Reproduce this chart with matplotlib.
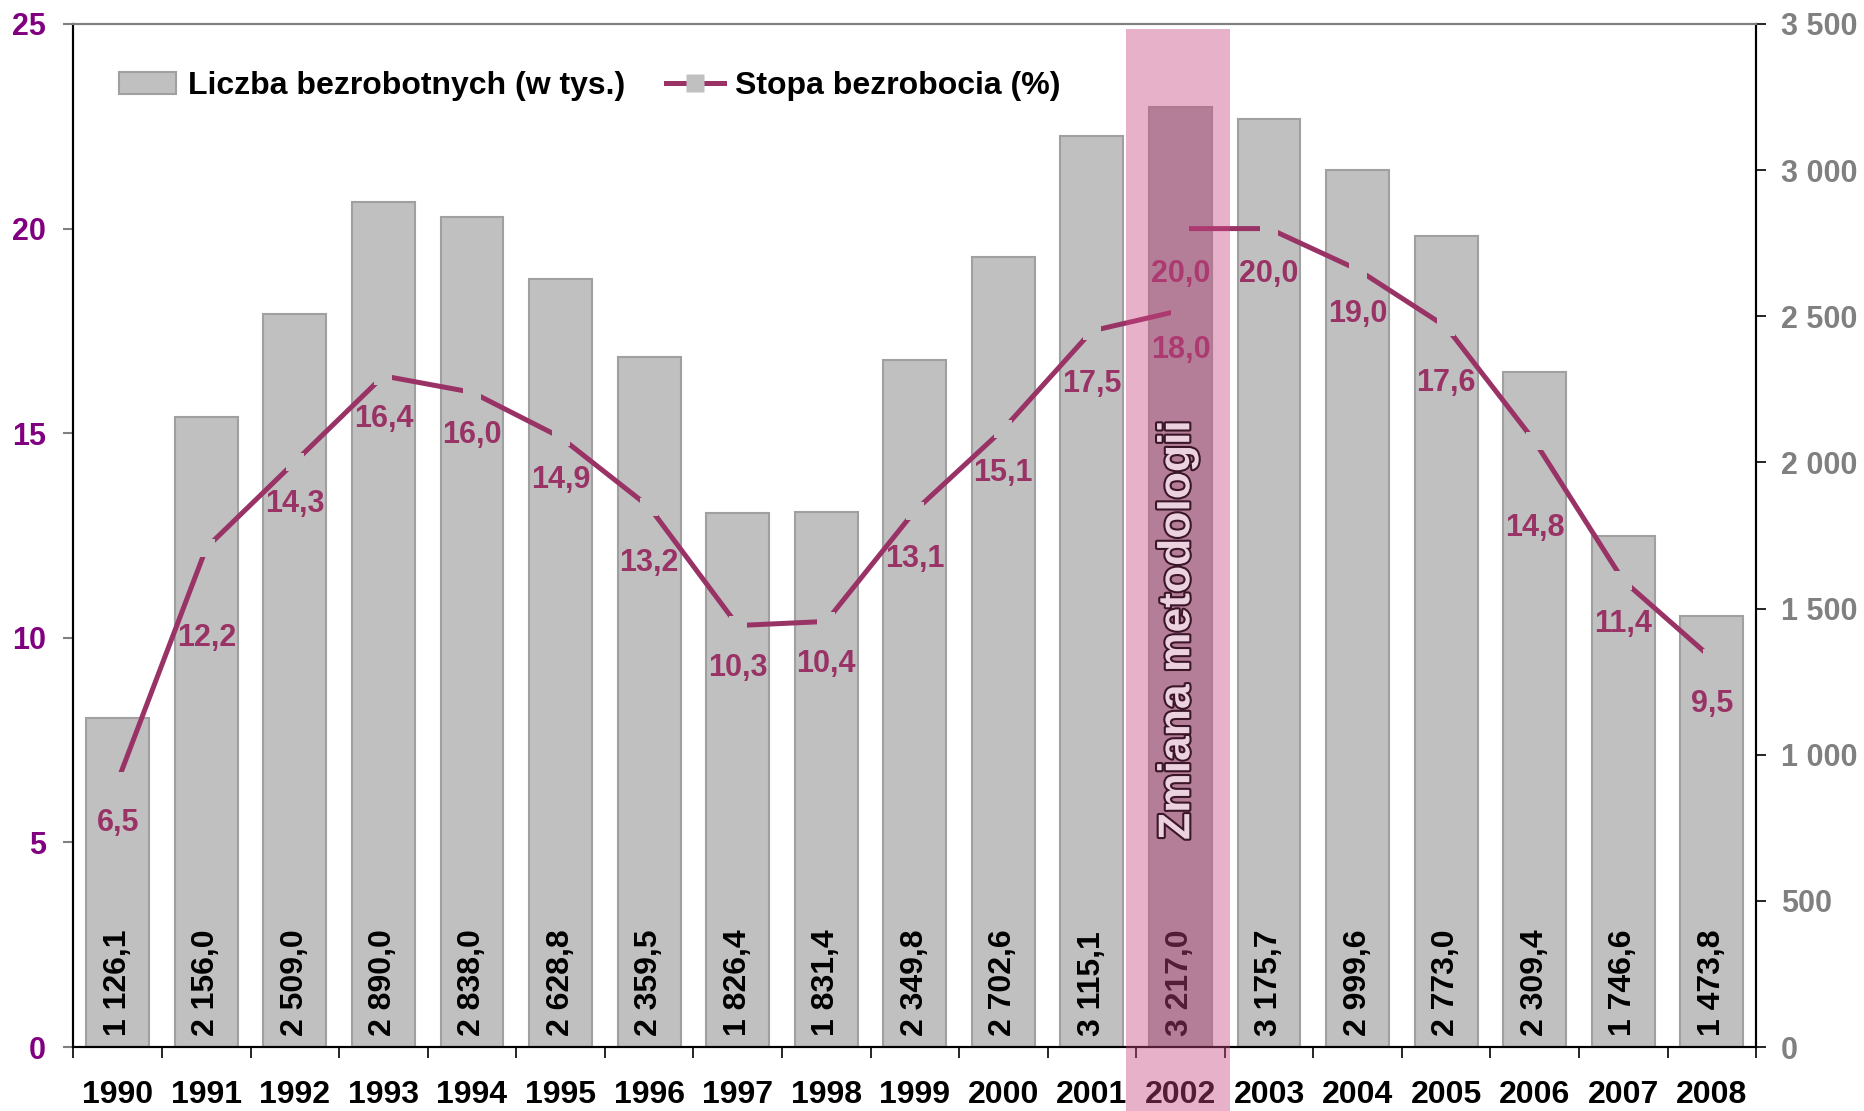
import numpy as np
import matplotlib.pyplot as plt
import matplotlib.patheffects as pe
from matplotlib.patches import Rectangle, Patch
from matplotlib.lines import Line2D
from matplotlib.ticker import FuncFormatter, FixedLocator
from matplotlib.transforms import blended_transform_factory

years = [1990, 1991, 1992, 1993, 1994, 1995, 1996, 1997, 1998, 1999,
         2000, 2001, 2002, 2003, 2004, 2005, 2006, 2007, 2008]
unemployed = [1126.1, 2156.0, 2509.0, 2890.0, 2838.0, 2628.8, 2359.5, 1826.4, 1831.4, 2349.8,
              2702.6, 3115.1, 3217.0, 3175.7, 2999.6, 2773.0, 2309.4, 1746.6, 1473.8]
# stopa bezrobocia: stara metodologia 1990-2002, nowa 2002-2008
rate_old = [6.5, 12.2, 14.3, 16.4, 16.0, 14.9, 13.2, 10.3, 10.4, 13.1, 15.1, 17.5, 18.0]
rate_new = [20.0, 20.0, 19.0, 17.6, 14.8, 11.4, 9.5]

# przesuniecia etykiet w dol (px)
off_old = [42, 90, 42, 43, 43, 43, 56, 42, 43, 48, 44, 53, 40]
off_new = [45, 45, 44, 56, 87, 43, 46]

plum = '#993366'
bar_col = '#c0c0c0'
dark_col = '#a8a8a8'
i_change = years.index(2002)

plt.rcParams.update({'font.family': 'Liberation Sans', 'font.weight': 'bold',
                     'hatch.linewidth': 0.6})

fig = plt.figure(figsize=(18.65, 11.11), dpi=100)
ax = fig.add_axes([0.0394, 0.0576, 0.9022, 0.9208])
ax2 = ax.twinx()

x = np.arange(len(years))
colors = [bar_col] * len(years)
colors[i_change] = dark_col
ax.bar(x, unemployed, width=0.71, color=colors, edgecolor='#a0a0a0', linewidth=1.5, zorder=2)
for xi, v in zip(x, unemployed):
    s = f'{v:,.1f}'.replace(',', ' ').replace('.', ',')
    ax.annotate(s, (xi, 0), xytext=(0, 11), textcoords='offset pixels', rotation=90,
                ha='center', va='bottom', fontsize=23, color='black', zorder=3)

ax.set_xlim(-0.5, len(years) - 0.5)
ax.set_ylim(0, 3500)
ax.yaxis.tick_right()
ax.yaxis.set_major_locator(FixedLocator(np.arange(0, 3501, 500)))
ax.yaxis.set_major_formatter(FuncFormatter(lambda v, p: f'{v:,.0f}'.replace(',', ' ')))
ax.tick_params(axis='y', which='major', direction='out', length=7, width=1.2,
               colors='black', labelcolor='#808080', labelsize=22, pad=11)

ax.xaxis.set_major_locator(FixedLocator(np.arange(-0.5, len(years), 1.0)))
ax.xaxis.set_minor_locator(FixedLocator(x))
ax.set_xticklabels([], minor=False)
ax.set_xticklabels([str(y) for y in years], minor=True)
ax.tick_params(axis='x', which='major', direction='out', length=8, width=1.2, color='black')
ax.tick_params(axis='x', which='minor', length=0, pad=24, labelsize=23, labelcolor='black')

# linia stopy bezrobocia (markery w kolorze slupka -> przerwy w linii)
xo = x[:len(rate_old)]
xn = x[len(rate_old) - 1:]
for xs, vals in [(xo, rate_old), (xn, rate_new)]:
    ax2.plot(xs, vals, color=plum, lw=3.6, zorder=3)
    mcol = [dark_col if xi == i_change else bar_col for xi in xs]
    ax2.scatter(xs, vals, marker='s', s=13 ** 2, c=mcol, edgecolors='none', zorder=3.5)
for xs, vals, offs in [(xo, rate_old, off_old), (xn, rate_new, off_new)]:
    for xi, v, o in zip(xs, vals, offs):
        ax2.annotate(f'{v:.1f}'.replace('.', ','), (xi, v), xytext=(0, -o),
                     textcoords='offset pixels', ha='center', va='center',
                     fontsize=22, color=plum, zorder=4)

ax2.set_ylim(0, 25)
ax2.yaxis.tick_left()
ax2.yaxis.set_major_locator(FixedLocator(np.arange(0, 26, 5)))
ax2.tick_params(axis='y', direction='out', length=7, width=1.5, colors='#808080',
                labelcolor='#800080', labelsize=22, pad=13)

for a in (ax, ax2):
    a.spines['left'].set_color('black')
    a.spines['right'].set_color('black')
    a.spines['bottom'].set_color('black')
    a.spines['top'].set_color('#808080')
    for sp in a.spines.values():
        sp.set_linewidth(1.5)

# zmiana metodologii - zakreskowany obszar
tr = blended_transform_factory(ax2.transData, ax2.transAxes)
ax2.add_patch(Rectangle((11.38, -0.0626), 1.18, 1.058, transform=tr, clip_on=False,
                        facecolor='none', edgecolor='#c84682', hatch='+' * 30, lw=0,
                        alpha=0.42, zorder=10))
ax2.text(11.97, 0.408, 'Zmiana metodologii', transform=tr, rotation=90, ha='center',
         va='center', fontsize=32, color='#ecd2df', zorder=11,
         path_effects=[pe.withStroke(linewidth=3, foreground='#3a1628')])

handles = [Patch(facecolor=bar_col, edgecolor='#a0a0a0', linewidth=1.5),
           Line2D([], [], color=plum, lw=3.6, marker='s', ms=13, mfc=bar_col, mec='none')]
ax2.legend(handles, ['Liczba bezrobotnych (w tys.)', 'Stopa bezrobocia (%)'],
           loc='center left', bbox_to_anchor=(0.027, 0.939), ncol=2, frameon=False,
           fontsize=23, handlelength=1.8, handletextpad=0.35, columnspacing=1.3,
           borderpad=0, borderaxespad=0)

fig.savefig('out.png', dpi=100)
